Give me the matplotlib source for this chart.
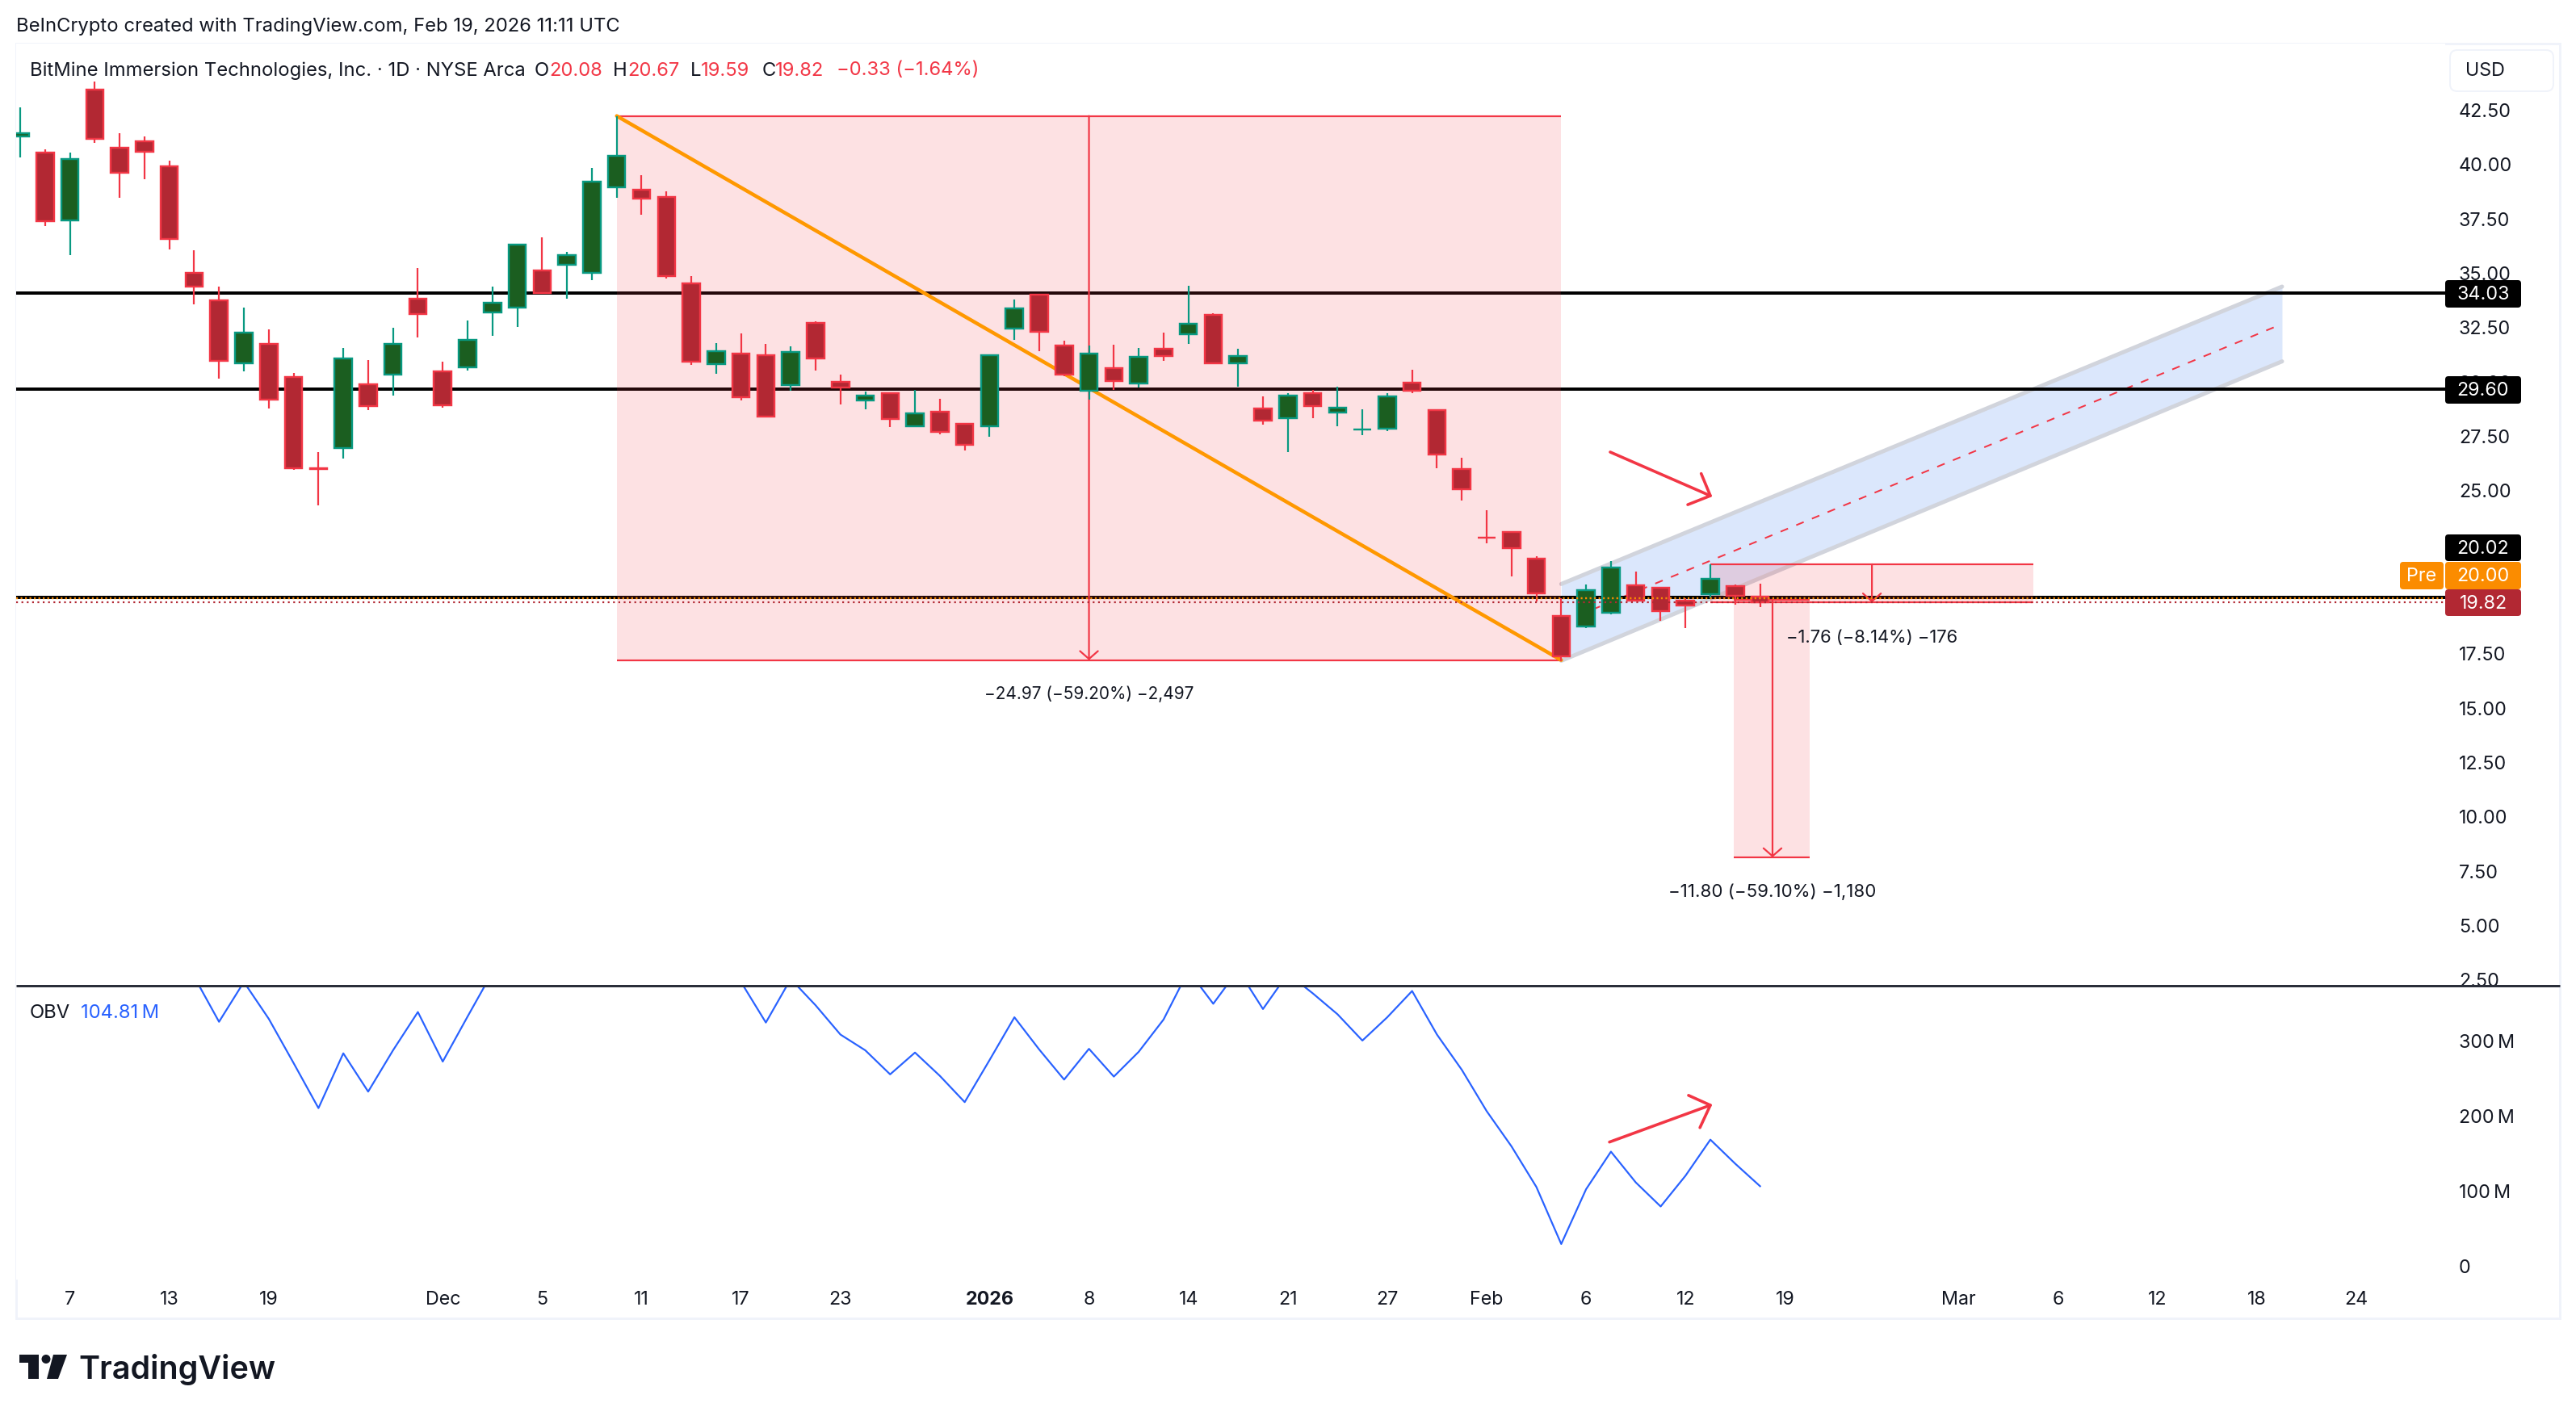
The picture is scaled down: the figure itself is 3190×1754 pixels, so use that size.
import numpy as np
import matplotlib
matplotlib.use("Agg")
import matplotlib.pyplot as plt
from matplotlib.patches import Rectangle, FancyBboxPatch, Polygon, Circle
from matplotlib.transforms import Affine2D, ScaledTranslation

plt.rcParams['font.family'] = ['Inter', 'DejaVu Sans']

# ---------- data ----------
opens = [41.23,40.48,37.37,43.38,40.71,41.03,39.88,34.95,33.71,30.79,31.71,30.19,25.98,26.89,29.82,30.28,33.76,30.45,
         30.60,33.16,33.36,35.09,35.32,34.95,38.89,38.77,38.45,34.47,30.78,31.24,31.16,29.81,32.65,29.94,29.11,29.42,
         27.92,28.56,28.01,27.92,32.41,33.95,31.61,29.55,30.57,29.89,31.46,32.15,33.02,30.81,28.71,28.29,29.42,28.55,
         27.75,27.81,29.90,28.64,25.93,22.79,23.03,21.81,19.17,18.69,19.32,20.60,20.49,19.90,20.17,20.54,20.08]
highs = [42.57,40.66,40.49,43.76,41.40,41.23,40.12,36.00,34.33,33.36,32.36,30.36,26.72,31.51,30.94,32.44,35.18,30.86,
         32.77,34.33,36.27,36.60,35.93,39.78,42.17,39.46,38.70,34.80,31.72,32.18,31.69,31.57,32.73,30.28,29.50,29.47,
         29.58,29.17,28.06,31.21,33.74,34.00,31.84,31.62,31.66,31.51,32.21,34.37,33.11,31.47,29.28,29.43,29.58,29.73,
         28.69,29.43,30.51,28.69,26.46,24.04,23.03,21.93,20.00,20.63,21.70,21.22,20.49,20.00,21.54,20.61,20.67]
lows = [40.27,37.10,35.78,40.95,38.42,39.27,36.03,33.51,30.09,30.43,28.72,25.90,24.27,26.42,28.64,29.31,31.99,28.75,
        30.46,32.07,32.48,34.03,33.77,34.62,38.42,37.64,34.70,30.73,30.32,29.09,28.36,29.54,30.47,28.91,28.69,27.87,
        27.92,27.53,26.79,27.42,31.88,31.36,30.21,29.12,29.58,29.69,30.91,31.69,30.77,29.73,27.98,26.72,28.28,27.91,
        27.50,27.68,29.43,25.98,24.49,22.52,21.00,19.85,17.10,18.63,19.27,19.88,18.96,18.63,20.00,19.71,19.59]
closes = [41.40,37.32,40.21,41.12,39.56,40.55,36.54,34.34,30.90,32.22,29.12,25.97,25.95,31.03,28.85,31.68,33.08,28.88,
          31.87,33.60,36.27,34.03,35.79,39.17,40.36,38.38,34.82,30.89,31.35,29.25,28.36,31.31,31.04,29.70,29.31,28.25,
          28.49,27.66,27.06,31.16,33.32,32.26,30.29,31.24,30.00,31.09,31.15,32.61,30.81,31.13,28.18,29.31,28.85,28.75,
          27.77,29.27,29.55,26.62,25.02,22.77,22.29,20.23,17.31,20.38,21.40,19.88,19.40,19.65,20.87,20.10,19.82]
obv_m = [400,400,400,400,400,400,400,384,324,377,328,269,209,282,231,286,337,271,331,390,
         400,400,400,400,400,400,400,400,400,377,323,381,346,307,286,254,283,252,217,273,
         330,287,247,288,251,284,327,392,348,393,341,388,362,334,299,330,365,307,260,205,
         158,104,28,101,151,110,78,119,167,135,105]

price_ticks = [2.5*k for k in range(1, 18)]
obv_ticks = [0, 100, 200, 300]
obv_tick_labels = ['0', '100\u2009M', '200\u2009M', '300\u2009M']
x_ticks = [2,6,10,17,21,25,29,33,39,43,47,51,55,59,63,67,71,78,82,86,90,94]
x_labels = ['7','13','19','Dec','5','11','17','23','2026','8','14','21','27','Feb','6','12','19','Mar','6','12','18','24']

levels = [34.03, 29.60, 20.02]
pre_price = 20.00
last_price = 19.82

measures_x = [(24, 62), (68, 81), (68.95, 72)]
measures_y = [(42.18, 17.15), (21.56, 19.80), (19.92, 8.08)]
measure_text = ['\u221224.97 (\u221259.20%) \u22122,497', '\u22121.76 (\u22128.14%) \u2212176', '\u221211.80 (\u221259.10%) \u22121,180']
arrow_x = [43, 74.5, 70.5]

trend_x = [24, 62]
trend_y = [42.18, 17.15]
channel_x = [62, 91]
channel_up = [20.65, 34.33]
channel_low = [17.12, 30.89]
channel_mid_x = [62, 90.7]
channel_mid = [18.88, 32.47]

hand1_x = [63.97, 68.0]
hand1_y = [26.72, 24.71]
hand1_head_x = [67.63, 68.0, 67.09]
hand1_head_y = [25.73, 24.71, 24.30]
hand2_x = [63.94, 68.0]
hand2_y = [163.8, 212.9]
hand2_head_x = [67.12, 68.0, 67.58]
hand2_head_y = [226, 212.9, 183]

# ---------- layout ----------
W, H = 3190, 1754
BAR = 30.78
fig = plt.figure(figsize=(W/100, H/100), dpi=100, facecolor='white')
PX = Affine2D().scale(1, -1).translate(0, H).scale(1/W, 1/H) + fig.transFigure
def pt(px):
    return px*0.72

L, R = 20, 3028
T1, B1 = 54, 1221
B2 = 1585
ax = fig.add_axes([L/W, 1-B1/H, (R-L)/W, (B1-T1)/H], zorder=0)
ax2 = fig.add_axes([L/W, 1-B2/H, (R-L)/W, (B2-B1)/H], zorder=1, sharex=None)
xlim = ((L-25)/BAR, (R-25)/BAR)
ax.set_xlim(xlim); ax2.set_xlim(xlim)
ax.set_ylim(42.5-(B1-135)/26.93, 42.5+(135-T1)/26.93)
ax2.set_ylim((1567-B2)/0.93, (1567-B1)/0.93)
for a in (ax, ax2):
    for s in a.spines.values():
        s.set_visible(False)

TXT = '#131722'
RED = '#f23645'
REDF = '#b22833'
GRN = '#089981'
GRNF = '#1b5e20'
ORG = '#fb8c00'
FS = pt(23.3)
FH = pt(23.8)

# price axis
ax.yaxis.tick_right()
ax.set_yticks(price_ticks)
ax.set_yticklabels([f'{v:.2f}' for v in price_ticks], fontsize=FS, color=TXT)
ax.tick_params(axis='y', length=0, pad=pt(17))
ax.set_xticks([])

# OBV axis
ax2.yaxis.tick_right()
ax2.set_yticks(obv_ticks)
ax2.set_yticklabels(obv_tick_labels, fontsize=FS, color=TXT)
ax2.tick_params(axis='y', length=0, pad=pt(17))
ax2.set_xticks(x_ticks)
ax2.set_xticklabels(x_labels, fontsize=FS, color=TXT)
ax2.tick_params(axis='x', length=0, pad=pt(14))
for lab in ax2.get_xticklabels():
    if lab.get_text() == '2026':
        lab.set_fontweight('bold')
shift = ScaledTranslation(0, -1.5/100, fig.dpi_scale_trans)
for lab in ax.get_yticklabels() + ax2.get_yticklabels():
    lab.set_transform(lab.get_transform() + shift)

# channel
ax.fill_between(channel_x, channel_low, channel_up, color='#2a75f0', alpha=0.17, lw=0, zorder=1)
for yy in (channel_up, channel_low):
    ax.plot(channel_x, yy, color='#d1d4dc', lw=pt(5), solid_capstyle='round', zorder=1.2)
ax.plot(channel_mid_x, channel_mid, color=RED, lw=pt(2), linestyle=(0, (5, 5.5)), zorder=1.4)

# horizontal levels
for lv in levels:
    ax.axhline(lv, color='black', lw=pt(4), zorder=2)

# measure boxes
for (x0, x1), (y0, y1), ax_x, t in zip(measures_x, measures_y, arrow_x, measure_text):
    ax.add_patch(Rectangle((x0, y1), x1-x0, y0-y1, facecolor=RED, alpha=0.15, lw=0, zorder=3))
    ax.plot([x0, x1], [y0, y0], color=RED, lw=pt(2.2), zorder=3.2, solid_capstyle='butt')
    ax.plot([x0, x1], [y1, y1], color=RED, lw=pt(2.2), zorder=3.2, solid_capstyle='butt')
    ax.annotate('', xy=(ax_x, y1), xytext=(ax_x, y0), zorder=3.3,
                arrowprops=dict(arrowstyle='->,head_length=7,head_width=8', color=RED, lw=pt(2.2),
                                shrinkA=0, shrinkB=0, mutation_scale=1))
ax.plot(trend_x, trend_y, color='#ff9800', lw=pt(4.5), zorder=3.5, solid_capstyle='round')

# candles
xs = np.arange(len(opens))
for i, o, hi, lo, c in zip(xs, opens, highs, lows, closes):
    up = c >= o
    ec, fc = (GRN, GRNF) if up else (RED, REDF)
    ax.vlines(i, lo, hi, color=ec, lw=pt(2.2), zorder=4)
    ax.bar(i, abs(c-o), bottom=min(o, c), width=0.70, facecolor=fc, edgecolor=ec, lw=pt(2.4), zorder=4.2)

# price lines
ax.axhline(pre_price, color=ORG, lw=pt(2.4), linestyle=(0, (0.9, 1.4)), zorder=5)
ax.axhline(last_price, color=REDF, lw=pt(2.2), linestyle=(0, (1, 2)), zorder=5)

# measure text
ytext = [860, 790, 1105]
size_text = [20.8, 22, 22.3]
for (x0, x1), t, yt, sz in zip(measures_x, measure_text, ytext, size_text):
    fig.text((25+BAR*(x0+x1)/2), yt, t, transform=PX, fontsize=pt(sz), color=TXT, ha='center', va='center', zorder=9)

# hand-drawn arrows
ax.plot(hand1_x, hand1_y, color=RED, lw=pt(3.6), solid_capstyle='round', zorder=6)
ax.plot(hand1_head_x, hand1_head_y, color=RED, lw=pt(3.6), solid_capstyle='round', solid_joinstyle='round', zorder=6)
ax2.plot(hand2_x, hand2_y, color=RED, lw=pt(3.6), solid_capstyle='round', zorder=6)
ax2.plot(hand2_head_x, hand2_head_y, color=RED, lw=pt(3.6), solid_capstyle='round', solid_joinstyle='round', zorder=6)

# OBV
ax2.plot(xs, obv_m, color='#2962ff', lw=pt(2.2), zorder=3)

# price tags
def tag(y0, y1, s, color, x0=3028, x1=3122):
    p = FancyBboxPatch((x0+2, y0+2), x1-x0-4, y1-y0-4, boxstyle='round,pad=2,rounding_size=4',
                       facecolor=color, edgecolor='none', transform=PX, clip_on=False, zorder=20)
    ax.add_patch(p)
    ax.text((x0+x1)/2, (y0+y1)/2+1, s, transform=PX, color='white', fontsize=FS, ha='center', va='center',
            clip_on=False, zorder=21)
tag(347, 381, f'{levels[0]:.2f}', 'black')
tag(466, 500, f'{levels[1]:.2f}', 'black')
tag(662, 695, f'{levels[2]:.2f}', 'black')
tag(696, 730, f'{pre_price:.2f}', ORG)
tag(730, 763, f'{last_price:.2f}', REDF)
tag(696, 730, 'Pre', ORG, 2972, 3026)

# panel chrome (behind the axes)
fig.add_artist(Rectangle((L, T1), 3170-L, 1633-T1, transform=PX, fill=False, edgecolor='#f0f3fa', lw=pt(3), zorder=-5))
ax2.add_patch(Rectangle((R, 1222), 3168-R, 30, transform=PX, facecolor='white', edgecolor='none', clip_on=False, zorder=-1))
ax2.plot([L, 3170], [1221, 1221], transform=PX, color='#2a2e39', lw=pt(3), clip_on=False, zorder=10, solid_capstyle='butt')
ax.add_patch(FancyBboxPatch((3034, 62), 128, 51, boxstyle='round,pad=0,rounding_size=9', facecolor='white',
                            edgecolor='#f0f3fa', lw=pt(2), transform=PX, clip_on=False, zorder=10))
ax.text(3077, 88, 'USD', transform=PX, fontsize=FS, color=TXT, ha='center', va='center', clip_on=False, zorder=11)

# header texts
fig.text(20, 33, 'BeInCrypto created with TradingView.com, Feb 19, 2026 11:11 UTC', transform=PX,
         fontsize=FH, color=TXT, ha='left', va='center')
legend_parts = [(36.7, 'BitMine Immersion Technologies, Inc. \u00b7 1D \u00b7 NYSE Arca', TXT),
                (662, 'O', TXT), (680, '20.08', RED), (759, 'H', TXT), (777, '20.67', RED),
                (855, 'L', TXT), (868, '19.59', RED), (944, 'C', TXT), (960, '19.82', RED),
                (1036, '\u22120.33 (\u22121.64%)', RED)]
for x, s, col in legend_parts:
    fig.text(x, 87.5, s, transform=PX, fontsize=FH, color=col, ha='left', va='center')
fig.text(36.7, 1255, 'OBV', transform=PX, fontsize=FH, color=TXT, ha='left', va='center')
fig.text(100, 1255, '104.81\u2009M', transform=PX, fontsize=FH, color='#2962ff', ha='left', va='center')

# TradingView logo
LOGO = '#131722'
fig.add_artist(Polygon([(24, 1678), (48, 1678), (48, 1708), (35, 1708), (35, 1688), (24, 1688)], closed=True,
                       transform=PX, facecolor=LOGO, edgecolor='none'))
fig.add_artist(Circle((57, 1683.5), 5.5, transform=PX, facecolor=LOGO, edgecolor='none'))
fig.add_artist(Polygon([(66, 1678), (83, 1678), (72, 1708), (58, 1708)], closed=True,
                       transform=PX, facecolor=LOGO, edgecolor='none'))
fig.text(97, 1696, 'TradingView', transform=PX, fontsize=pt(39.5), color=LOGO, fontweight='semibold', ha='left', va='center')

fig.savefig('out.png', dpi=100, facecolor='white')
